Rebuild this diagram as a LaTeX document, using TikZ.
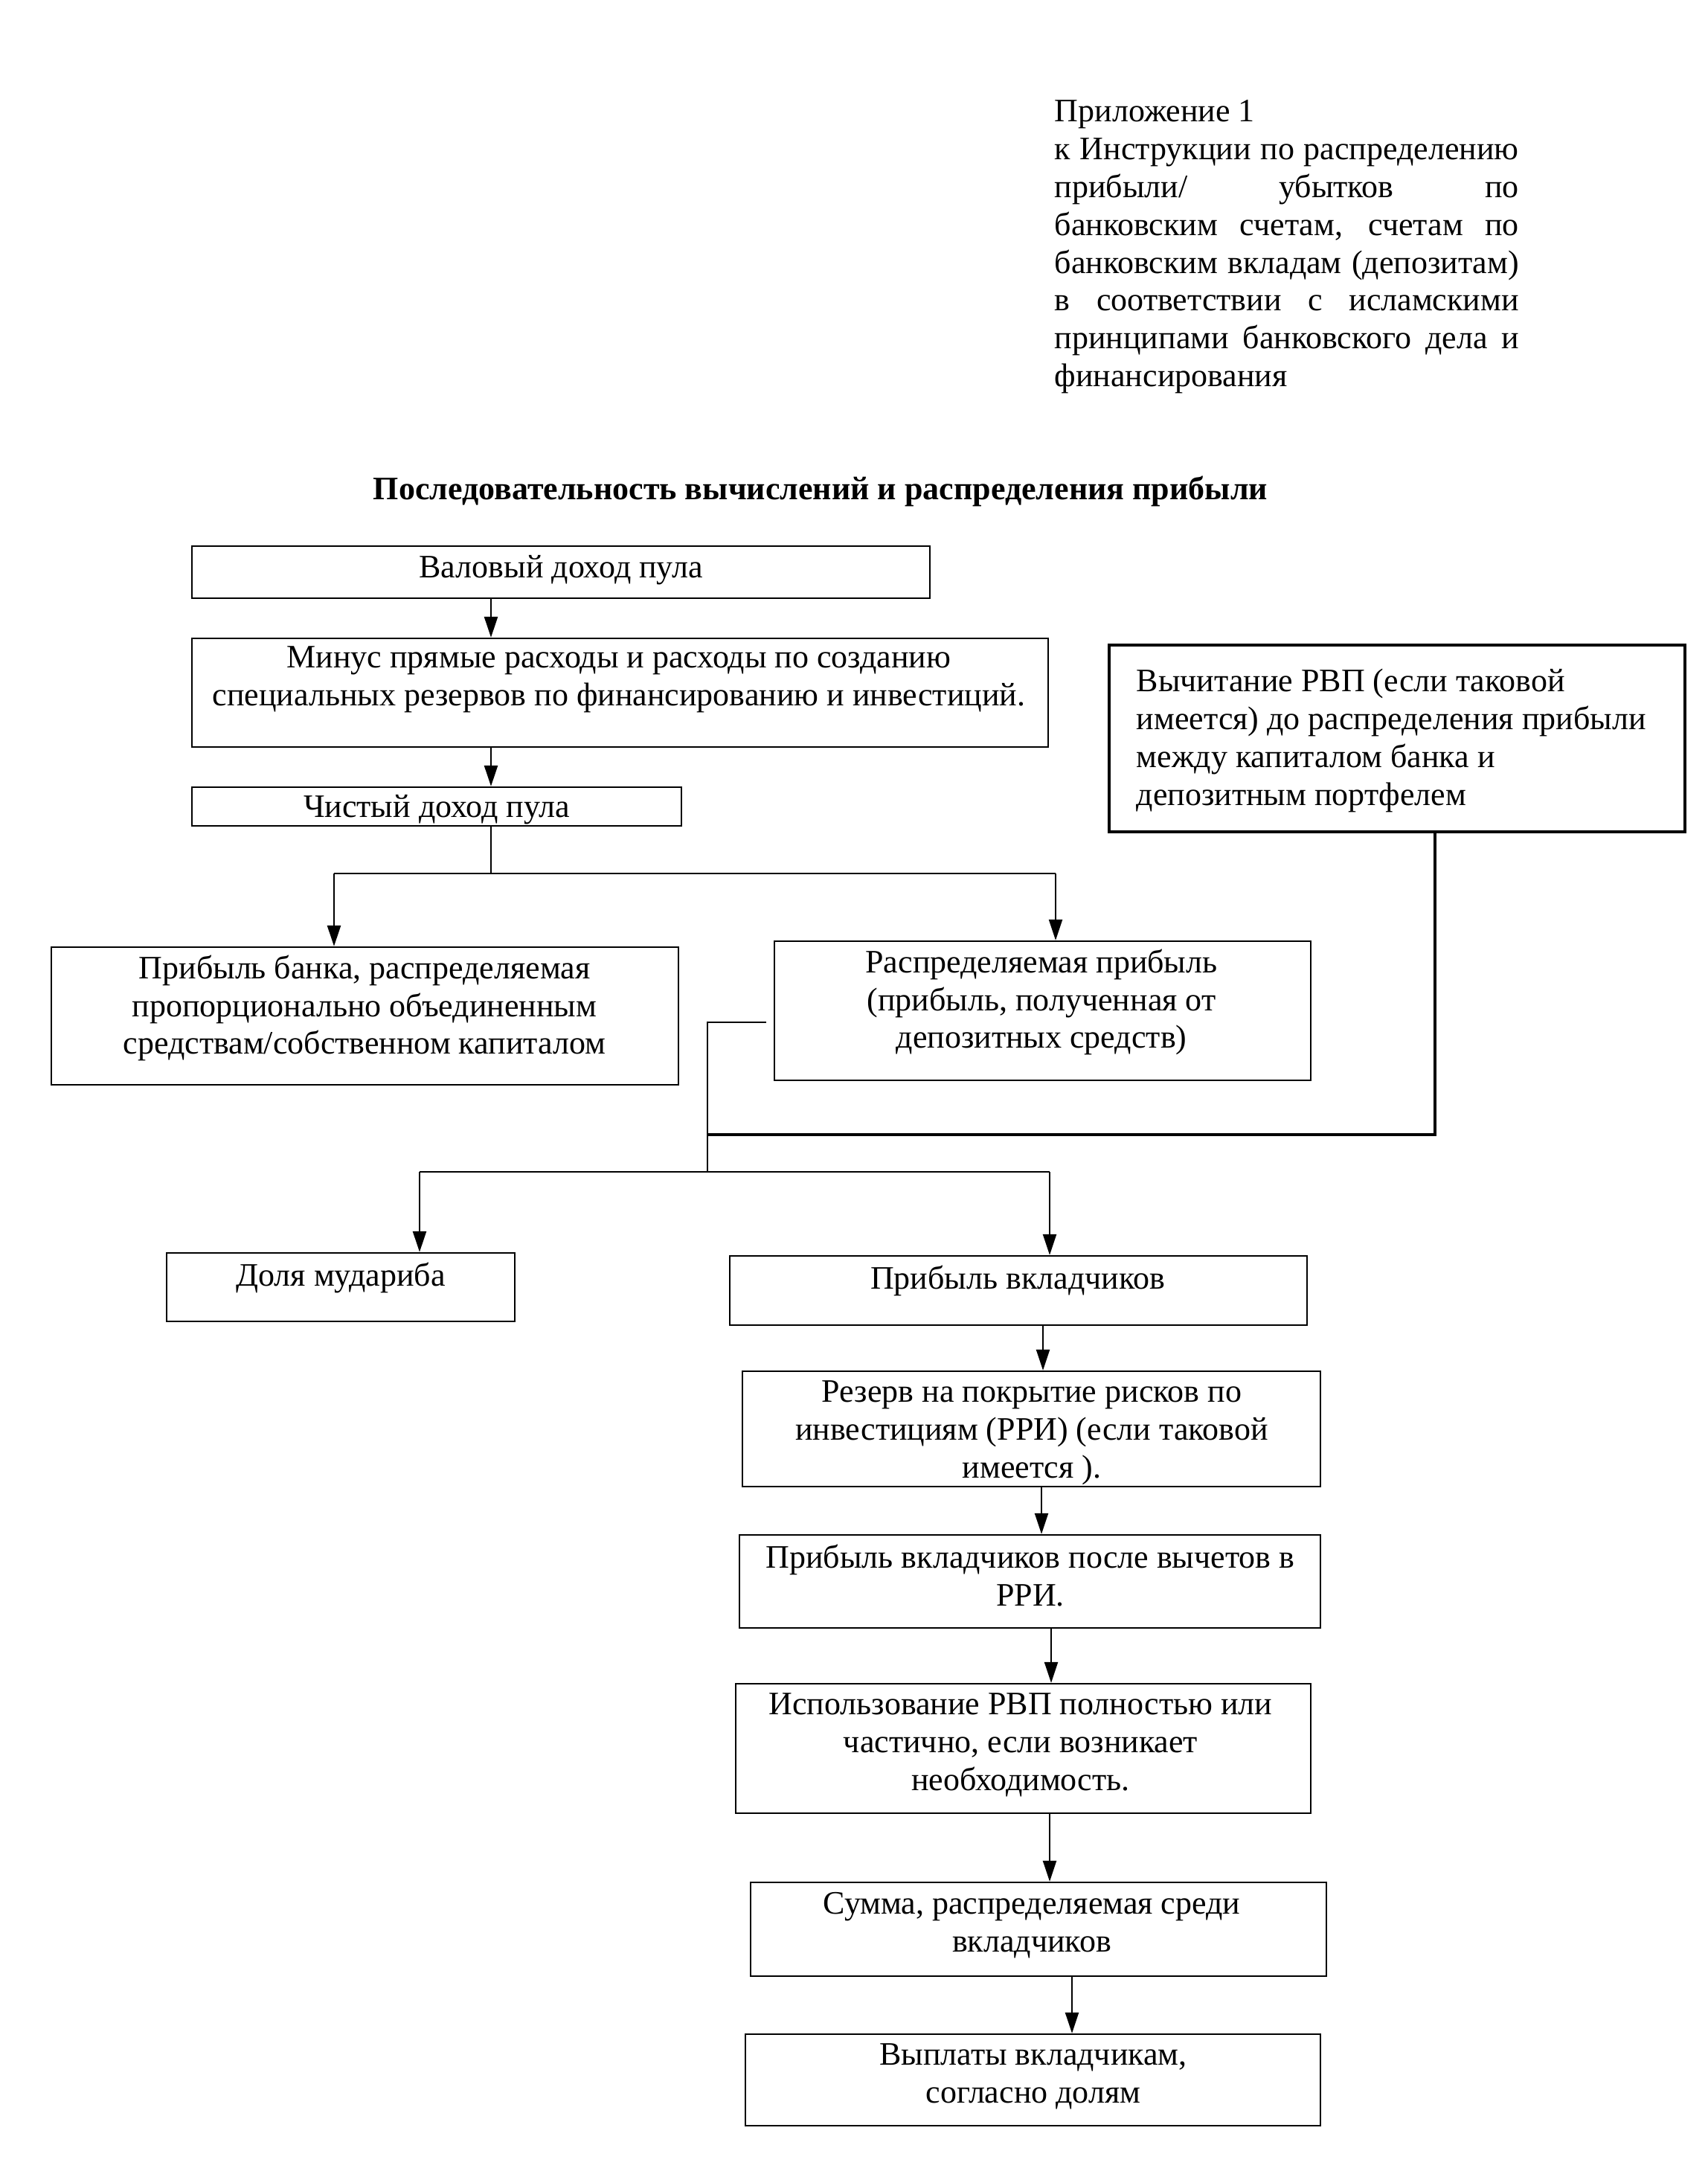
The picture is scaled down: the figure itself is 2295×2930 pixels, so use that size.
\documentclass[tikz,border=0pt]{standalone}
\usepackage{fontspec}
\setmainfont{Liberation Serif}
\usetikzlibrary{arrows.meta,fit}
\newcommand\mkbox[6][frame]{%
  \coordinate (#2-nw) at (#3,#4);
  \coordinate (#2-se) at (#5,#6);
  \node[#1, fit=(#2-nw)(#2-se)] (#2) {};}
\tikzset{
  frame/.style={draw, line width=0.6pt, inner sep=0pt},
  boldframe/.style={draw, line width=1pt, inner sep=0pt},
  txt/.style={align=center, inner sep=0pt, anchor=north, font=\fontsize{11pt}{12.7pt}\selectfont},
  ltxt/.style={align=left, inner sep=0pt, anchor=north west, font=\fontsize{11pt}{12.8pt}\selectfont},
  conn/.style={line width=0.6pt},
  arr/.style={line width=0.6pt, -{Triangle[length=7pt,width=4.5pt]}},
}
\begin{document}
\begin{tikzpicture}[x=0.25pt, y=-0.25pt]
\useasboundingbox (0,0) rectangle (2295,2930);

% header
\node[inner sep=0pt, anchor=north west] (head) at (1417,134) {%
  \begin{minipage}{156pt}\fontsize{11pt}{12.7pt}\selectfont
  Приложение 1\\
  \makebox[\linewidth][s]{к Инструкции по распределению}\\
  \makebox[\linewidth][s]{прибыли/ убытков по}\\
  \makebox[\linewidth][s]{банковским счетам, счетам по}\\
  \makebox[\linewidth][s]{банковским вкладам (депозитам)}\\
  \makebox[\linewidth][s]{в соответствии с исламскими}\\
  \makebox[\linewidth][s]{принципами банковского дела и}\\
  финансирования
  \end{minipage}};

% title
\node[inner sep=0pt, font=\fontsize{11pt}{12.7pt}\selectfont\bfseries] (title) at (1103,660)
  {Последовательность вычислений и распределения прибыли};

% boxes
\mkbox{b1}{258}{734}{1250}{804}
\mkbox{b2}{258}{858}{1409}{1004}
\mkbox{b3}{258}{1058}{916}{1110}
\mkbox{b4}{69}{1273}{912}{1458}
\mkbox{b5}{1041}{1265}{1762}{1452}
\mkbox[boldframe]{b6}{1491}{867}{2265}{1118}
\mkbox{b7}{224}{1684}{692}{1776}
\mkbox{b8}{981}{1688}{1757}{1781}
\mkbox{b9}{998}{1843}{1775}{1998}
\mkbox{b10}{994}{2063}{1775}{2188}
\mkbox{b11}{989}{2263}{1762}{2437}
\mkbox{b12}{1009}{2530}{1783}{2656}
\mkbox{b13}{1002}{2734}{1775}{2857}

% texts
\node[txt] (t1) at (754,746) {Валовый доход пула};
\node[txt] (t2) at (832,868) {Минус прямые расходы и расходы по созданию\\специальных резервов по финансированию и инвестиций.};
\node[txt] (t3) at (587,1068) {Чистый доход пула};
\node[txt] (t4) at (490,1283) {Прибыль банка, распределяемая\\пропорционально объединенным\\средствам/собственном капиталом};
\node[txt] (t5) at (1400,1275) {Распределяемая прибыль\\(прибыль, полученная от\\депозитных средств)};
\node[ltxt] (t6) at (1527,898) {Вычитание РВП (если таковой\\имеется) до распределения прибыли\\между капиталом банка и\\депозитным портфелем};
\node[txt] (t7) at (458,1696) {Доля мудариба};
\node[txt] (t8) at (1368,1700) {Прибыль вкладчиков};
\node[txt] (t9) at (1387,1855) {Резерв на покрытие рисков по\\инвестициям (РРИ) (если таковой\\имеется ).};
\node[txt] (t10) at (1385,2075) {Прибыль вкладчиков после вычетов в\\РРИ.};
\node[txt] (t11) at (1372,2275) {Использование РВП полностью или\\частично, если возникает\\необходимость.};
\node[txt] (t12) at (1387,2543) {Сумма, распределяемая среди\\вкладчиков};
\node[txt] (t13) at (1389,2746) {Выплаты вкладчикам,\\согласно долям};

% connectors top
\coordinate (xa) at (660,0);
\draw[arr] (b1.south -| xa) -- (b2.north -| xa);
\draw[arr] (b2.south -| xa) -- (b3.north -| xa);
\coordinate (j1) at (660,1174);
\coordinate (xl) at (449,1174);
\coordinate (xr) at (1419,1174);
\draw[conn] (b3.south -| xa) -- (j1);
\draw[conn] (xl) -- (xr);
\draw[arr] (xl) -- (b4.north -| xl);
\draw[arr] (xr) -- (b5.north -| xr);

% box6 link
\coordinate (x6) at (1929,0);
\coordinate (j6) at (1929,1525);
\coordinate (m1) at (951,1525);
\draw[conn, line width=0.9pt] (b6.south -| x6) -- (j6) -- (m1);

% box5 link and split
\coordinate (s5) at (1030,1374);
\coordinate (m0) at (951,1374);
\coordinate (m2) at (951,1575);
\draw[conn] (s5) -- (m0) -- (m2);
\coordinate (yl) at (564,1575);
\coordinate (yr) at (1411,1575);
\draw[conn] (yl) -- (yr);
\draw[arr] (yl) -- (b7.north -| yl);
\draw[arr] (yr) -- (b8.north -| yr);

% lower chain
\coordinate (x8) at (1402,0);
\coordinate (x9) at (1400,0);
\coordinate (x10) at (1413,0);
\coordinate (x11) at (1411,0);
\coordinate (x12) at (1441,0);
\draw[arr] (b8.south -| x8) -- (b9.north -| x8);
\draw[arr] (b9.south -| x9) -- (b10.north -| x9);
\draw[arr] (b10.south -| x10) -- (b11.north -| x10);
\draw[arr] (b11.south -| x11) -- (b12.north -| x11);
\draw[arr] (b12.south -| x12) -- (b13.north -| x12);
\end{tikzpicture}
\end{document}
